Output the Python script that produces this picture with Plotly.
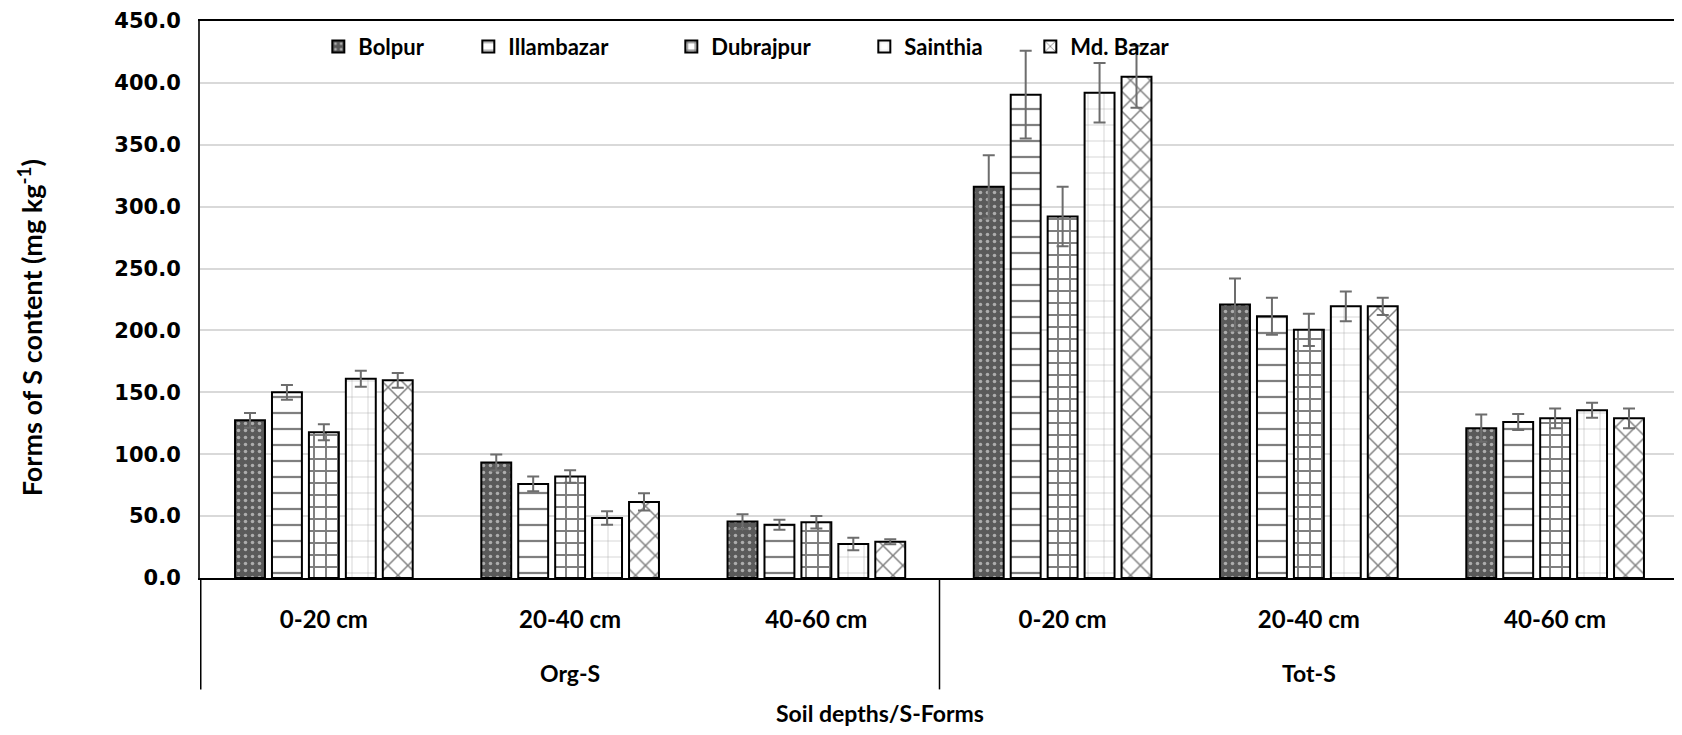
import plotly.graph_objects as go

forms = ["Org-S", "Tot-S"]
depths = ["0-20 cm", "20-40 cm", "40-60 cm"]
series = ["Bolpur", "Illambazar", "Dubrajpur", "Sainthia", "Md. Bazar"]

# values in order: Org-S (0-20, 20-40, 40-60), Tot-S (0-20, 20-40, 40-60)
bolpur = [127.4, 93.3, 45.6, 316.0, 221.0, 121.0]
illambazar = [150.0, 76.0, 43.0, 390.5, 211.5, 126.0]
dubrajpur = [117.7, 82.0, 45.0, 292.0, 200.5, 129.0]
sainthia = [161.0, 48.5, 27.5, 392.0, 219.5, 135.5]
md_bazar = [159.7, 61.5, 29.3, 405.0, 219.5, 129.0]

bolpur_err = [6.0, 6.5, 6.0, 25.5, 21.0, 11.0]
illambazar_err = [6.0, 6.0, 4.0, 35.5, 15.0, 6.5]
dubrajpur_err = [6.5, 5.0, 5.0, 24.0, 13.0, 8.0]
sainthia_err = [6.5, 5.5, 5.0, 24.0, 12.0, 6.0]
md_bazar_err = [6.0, 7.0, 2.0, 25.0, 7.0, 8.0]

values = [bolpur, illambazar, dubrajpur, sainthia, md_bazar]
errors = [bolpur_err, illambazar_err, dubrajpur_err, sainthia_err, md_bazar_err]

cats = [f"{f}|{d}" for f in forms for d in depths]
ticktext = [d for f in forms for d in depths]

patterns = [
    dict(shape=".", size=7, solidity=0.2, fgcolor="#ffffff", bgcolor="#5a5a5a"),
    dict(shape="-", size=16, solidity=0.14, fgcolor="#000000", bgcolor="#ffffff"),
    dict(shape="+", size=12, solidity=0.3, fgcolor="#000000", bgcolor="#ffffff"),
    dict(shape="+", size=16, solidity=0.06, fgcolor="#555555", bgcolor="#ffffff"),
    dict(shape="x", size=14, solidity=0.2, fgcolor="#000000", bgcolor="#ffffff"),
]
legend_widths = [105, 158, 148, 121, 110]

TXT = "Lato"
fig = go.Figure()
for name, v, e, p, lw in zip(series, values, errors, patterns, legend_widths):
    fig.add_trace(go.Bar(
        name=name, x=cats, y=v,
        marker=dict(color="#ffffff", pattern=p, line=dict(color="#000000", width=2)),
        error_y=dict(type="data", array=e, visible=True, color="#6d6d6d", thickness=2, width=6),
        legendwidth=lw,
    ))

# divider lines of the two-level category axis
for xd in [-0.5, 2.5, 5.5]:
    fig.add_shape(type="line", xref="x", yref="paper", x0=xd, x1=xd, y0=0, y1=-0.2,
                  line=dict(color="#000000", width=1.5))

# group labels
for i, f in enumerate(forms):
    fig.add_annotation(text=f, xref="x", yref="paper", x=cats[i * 3 + 1], y=-0.171,
                       showarrow=False, yanchor="middle",
                       font=dict(family=TXT, size=23, color="#000000", weight="bold"))

fig.add_annotation(text="Soil depths/S-Forms", xref="paper", yref="paper", x=0.46, y=-0.243,
                   showarrow=False, yanchor="middle",
                   font=dict(family=TXT, size=23, color="#000000", weight="bold"))
fig.add_annotation(text="Forms of S content (mg kg<sup>-1</sup>)", xref="paper", yref="paper",
                   x=-0.115, y=0.45, textangle=-90, showarrow=False,
                   xanchor="center", yanchor="middle",
                   font=dict(family=TXT, size=27, color="#000000", weight="bold"))

fig.update_layout(
    width=1682, height=735,
    margin=dict(l=192, r=11, t=13, b=165),
    paper_bgcolor="#ffffff", plot_bgcolor="#ffffff",
    barmode="group", bargap=0.25, bargroupgap=0.19,
    legend=dict(orientation="h", x=0.08, xanchor="left", y=0.954, yanchor="middle",
                bgcolor="rgba(0,0,0,0)", font=dict(family=TXT, size=22, color="#000000", weight="bold"),
                traceorder="normal"),
    xaxis=dict(type="category", tickvals=cats, ticktext=ticktext, showgrid=False,
               showline=True, linecolor="#000000", linewidth=2, mirror=True, ticks="",
               ticklabelstandoff=19, automargin=False,
               tickfont=dict(family=TXT, size=24, color="#000000", weight="bold")),
    yaxis=dict(range=[0, 450], dtick=50, tickformat=".1f", showgrid=True, gridcolor="#d9d9d9",
               gridwidth=1.5, zeroline=False, showline=True, linecolor="#333333", linewidth=2,
               mirror=True, ticks="", ticklabelstandoff=13, ticklabeloverflow="allow",
               automargin=False,
               tickfont=dict(family="DejaVu Sans", size=21, color="#000000", weight="bold")),
)

fig.write_html("out.html")
